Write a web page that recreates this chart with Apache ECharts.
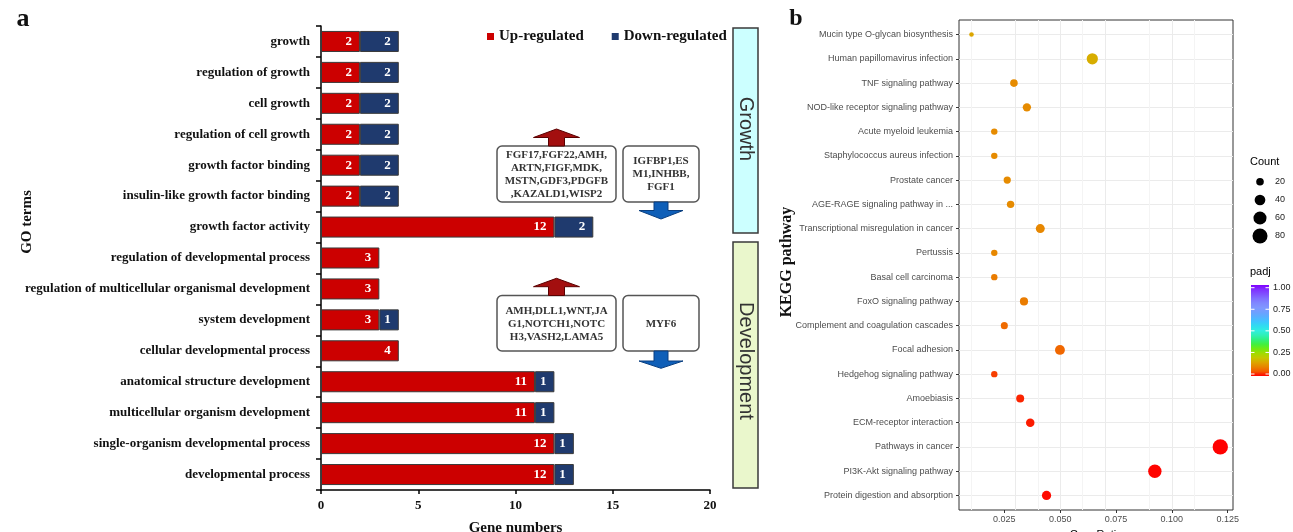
<!DOCTYPE html>
<html>
<head>
<meta charset="utf-8">
<script src="https://cdn.jsdelivr.net/npm/echarts@6/dist/echarts.min.js"></script>
<style>
html,body{margin:0;padding:0;background:#fff;}
#chart{width:1293px;height:532px;}
</style>
</head>
<body>
<div id="chart"></div>
<script>
// ---------- Panel a data ----------
const goTerms = ['growth','regulation of growth','cell growth','regulation of cell growth','growth factor binding','insulin-like growth factor binding','growth factor activity','regulation of developmental process','regulation of multicellular organismal development','system development','cellular developmental process','anatomical structure development','multicellular organism development','single-organism developmental process','developmental process'];
const upRegulated   = [2,2,2,2,2,2,12,3,3,3,4,11,11,12,12];
const downRegulated = [2,2,2,2,2,2,2,0,0,1,0,1,1,1,1];
const geneAxisMax = 20;
const geneAxisInterval = 5;

// ---------- Panel b data ----------
const keggPathways = ['Mucin type O-glycan biosynthesis','Human papillomavirus infection','TNF signaling pathway','NOD-like receptor signaling pathway','Acute myeloid leukemia','Staphylococcus aureus infection','Prostate cancer','AGE-RAGE signaling pathway in ...','Transcriptional misregulation in cancer','Pertussis','Basal cell carcinoma','FoxO signaling pathway','Complement and coagulation cascades','Focal adhesion','Hedgehog signaling pathway','Amoebiasis','ECM-receptor interaction','Pathways in cancer','PI3K-Akt signaling pathway','Protein digestion and absorption'];
const geneRatio = [0.0103,0.0644,0.0293,0.0351,0.0205,0.0205,0.0263,0.0278,0.0411,0.0205,0.0205,0.0338,0.0250,0.0499,0.0205,0.0321,0.0366,0.1217,0.0924,0.0439];
const geneCount = [7,44,20,24,14,14,18,19,28,14,14,23,17,34,14,22,25,83,63,30];
const padj      = [0.15,0.16,0.11,0.11,0.11,0.11,0.11,0.11,0.105,0.105,0.09,0.09,0.07,0.065,0.035,0.02,0.015,0.0005,0.002,0.006];
const ratioTicks = [0.025,0.05,0.075,0.1,0.125];
const ratioMinorTicks = [0.0125,0.0375,0.0625,0.0875,0.1125];
const countLegend = [20,40,60,80];
const padjTicks = [1.00,0.75,0.50,0.25,0.00];

// ---------- styles ----------
const SERIF = '"Liberation Serif","Times New Roman",serif';
const SANS = '"Liberation Sans",Arial,Helvetica,sans-serif';
const padjColors = ['#FF0000','#F45A00','#E88400','#DCA600','#C4C800','#A0DC00','#70EA10','#40F040','#30F080','#30F0B8','#30EEE0','#30DCF0','#40C4FF','#58B0FF','#6EA0FF','#8098FF','#8088FF','#8070FF','#8050FF','#8030FF','#8000FF'];
function dotSize(c){ return 0.2 + 1.66*Math.sqrt(c); }

const chart = echarts.init(document.getElementById('chart'), null, {renderer:'canvas'});

const kIdx = keggPathways.map((_, i) => i);
const points = keggPathways.map((n, i) => [geneRatio[i], i, geneCount[i], padj[i], n]);

const gridLineData = []
  .concat(kIdx.map(i => ({yAxis: i, lineStyle:{color:'#EBEBEB', width:1, type:'solid'}})))
  .concat(ratioTicks.map(v => ({xAxis: v, lineStyle:{color:'#EBEBEB', width:1, type:'solid'}})))
  .concat(ratioMinorTicks.map(v => ({xAxis: v, lineStyle:{color:'#F4F4F4', width:1, type:'solid'}})));

// annotation helpers
function upArrow(cx, tipY, baseY, boxTop, fill, stroke){
  return {type:'polygon', shape:{points:[[cx,tipY],[cx+23,baseY],[cx+8,baseY],[cx+8,boxTop],[cx-8,boxTop],[cx-8,baseY],[cx-23,baseY]]},
    style:{fill:fill, stroke:stroke, lineWidth:1}};
}
function downArrow(cx, boxBottom, headY, tipY, fill, stroke){
  return {type:'polygon', shape:{points:[[cx-7,boxBottom],[cx+7,boxBottom],[cx+7,headY],[cx+22,headY],[cx,tipY],[cx-22,headY],[cx-7,headY]]},
    style:{fill:fill, stroke:stroke, lineWidth:1}};
}
function geneBox(x, y, w, h, text){
  return [
    {type:'rect', shape:{x:x, y:y, width:w, height:h, r:5}, style:{fill:'#fff', stroke:'#555', lineWidth:1.5}},
    {type:'text', x:x+w/2, y:y+h/2+0.5, style:{text:text, align:'center', verticalAlign:'middle', font:'bold 11px '+SERIF, lineHeight:13, fill:'#333'}}
  ];
}

const graphics = [];
graphics.push({type:'text', x:23, y:19.5, style:{text:'a', font:'bold 26px '+SERIF, fill:'#111', align:'center', verticalAlign:'middle'}});
graphics.push({type:'text', x:796, y:18.5, style:{text:'b', font:'bold 24px '+SERIF, fill:'#111', align:'center', verticalAlign:'middle'}});
graphics.push({type:'text', x:27.5, y:222, rotation:Math.PI/2, style:{text:'GO terms', font:'bold 15px '+SERIF, fill:'#111', align:'center', verticalAlign:'middle'}});
graphics.push({type:'text', x:786.5, y:262, rotation:Math.PI/2, style:{text:'KEGG pathway', font:'bold 16px '+SERIF, fill:'#111', align:'center', verticalAlign:'middle'}});
// gene boxes (growth)
graphics.push(...geneBox(497, 146, 119, 56, 'FGF17,FGF22,AMH,\nARTN,FIGF,MDK,\nMSTN,GDF3,PDGFB\n,KAZALD1,WISP2'));
graphics.push(...geneBox(623, 146, 76, 56, 'IGFBP1,ES\nM1,INHBB,\nFGF1'));
graphics.push(upArrow(556.5, 129, 137.5, 146, '#A30F0F', '#5a0000'));
graphics.push(downArrow(661, 202, 210.5, 219, '#0F5FB8', '#0a3f80'));
// gene boxes (development)
graphics.push(...geneBox(497, 295.5, 119, 55.5, 'AMH,DLL1,WNT,JA\nG1,NOTCH1,NOTC\nH3,VASH2,LAMA5'));
graphics.push(...geneBox(623, 295.5, 76, 55.5, 'MYF6'));
graphics.push(upArrow(556.5, 278.3, 286.7, 295.5, '#A30F0F', '#5a0000'));
graphics.push(downArrow(661, 351, 361, 368.3, '#0F5FB8', '#0a3f80'));
// side category boxes
graphics.push({type:'rect', shape:{x:733, y:28, width:25, height:205}, style:{fill:'#CCFFFF', stroke:'#3a3a3a', lineWidth:1.5}});
graphics.push({type:'text', x:745.5, y:129, rotation:-Math.PI/2, style:{text:'Growth', font:'20px '+SANS, fill:'#333', align:'center', verticalAlign:'middle'}});
graphics.push({type:'rect', shape:{x:733, y:242, width:25, height:246}, style:{fill:'#EAF7CC', stroke:'#3a3a3a', lineWidth:1.5}});
graphics.push({type:'text', x:745.5, y:361, rotation:-Math.PI/2, style:{text:'Development', font:'20px '+SANS, fill:'#333', align:'center', verticalAlign:'middle'}});
// Count size legend
graphics.push({type:'text', x:1250, y:162, style:{text:'Count', font:'11px '+SANS, fill:'#000', align:'left', verticalAlign:'middle'}});
const countY = [181.7, 200, 218, 236];
countLegend.forEach((c, i) => {
  graphics.push({type:'circle', shape:{cx:1260, cy:countY[i], r:dotSize(c)/2}, style:{fill:'#000'}});
  graphics.push({type:'text', x:1275, y:countY[i], style:{text:String(c), font:'9px '+SANS, fill:'#222', align:'left', verticalAlign:'middle'}});
});
// padj colour bar
graphics.push({type:'text', x:1250, y:272, style:{text:'padj', font:'11px '+SANS, fill:'#000', align:'left', verticalAlign:'middle'}});
graphics.push({type:'rect', shape:{x:1251, y:285, width:18, height:91},
  style:{fill:{type:'linear', x:0, y:1, x2:0, y2:0, colorStops: padjColors.map((c, i) => ({offset: i/(padjColors.length-1), color:c}))}}});
padjTicks.forEach(v => {
  const y = 374 - v*86.3;
  graphics.push({type:'line', shape:{x1:1251, y1:y, x2:1254.5, y2:y}, style:{stroke:'#fff', lineWidth:1}});
  graphics.push({type:'line', shape:{x1:1265.5, y1:y, x2:1269, y2:y}, style:{stroke:'#fff', lineWidth:1}});
  graphics.push({type:'text', x:1273, y:y, style:{text:v.toFixed(2), font:'9px '+SANS, fill:'#222', align:'left', verticalAlign:'middle'}});
});

const option = {
  backgroundColor:'#fff',
  animation:false,
  legend:{
    data:['Up-regulated','Down-regulated'],
    left:487, top:29, padding:0, itemWidth:7, itemHeight:7, itemGap:28, icon:'rect',
    itemStyle:{borderWidth:0},
    textStyle:{fontFamily:SERIF, fontWeight:'bold', fontSize:15, color:'#111', padding:[0,0,0,0]}
  },
  grid:[
    {left:321, top:26, width:389, height:464, containLabel:false, outerBoundsMode:'none'},
    {left:959, top:20, width:274, height:490, containLabel:false, outerBoundsMode:'none', show:true, borderColor:'#333', borderWidth:1, backgroundColor:'transparent'}
  ],
  xAxis:[
    {gridIndex:0, type:'value', min:0, max:geneAxisMax, interval:geneAxisInterval,
     axisLine:{show:true, onZero:false, lineStyle:{color:'#000', width:1.5}},
     axisTick:{show:true, length:4, lineStyle:{color:'#000', width:1.5}},
     axisLabel:{fontFamily:SERIF, fontWeight:'bold', fontSize:13, color:'#111', margin:9},
     splitLine:{show:false},
     name:'Gene numbers', nameLocation:'middle', nameGap:31,
     nameTextStyle:{fontFamily:SERIF, fontWeight:'bold', fontSize:15, color:'#111'}},
    {gridIndex:1, type:'value', min:0.0047, max:0.1274, position:'bottom',
     axisLine:{show:false, onZero:false},
     axisTick:{show:true, length:3, customValues:ratioTicks, lineStyle:{color:'#333', width:1}},
     axisLabel:{customValues:ratioTicks, formatter:v => v.toFixed(3), fontFamily:SANS, fontSize:9, color:'#4D4D4D', margin:5},
     splitLine:{show:false},
     name:'GeneRatio', nameLocation:'middle', nameGap:19,
     nameTextStyle:{fontFamily:SANS, fontSize:11, color:'#000'}}
  ],
  yAxis:[
    {gridIndex:0, type:'category', data:goTerms, inverse:true,
     axisLine:{show:true, onZero:false, lineStyle:{color:'#000', width:1.5}},
     axisTick:{show:true, length:5, lineStyle:{color:'#000', width:1.5}},
     axisLabel:{fontFamily:SERIF, fontWeight:'bold', fontSize:13, color:'#111', margin:11},
     splitLine:{show:false}},
    {gridIndex:1, type:'value', min:-0.6, max:keggPathways.length-0.4, inverse:true, position:'left',
     axisLine:{show:false, onZero:false},
     axisTick:{show:true, length:3, customValues:kIdx, lineStyle:{color:'#333', width:1}},
     axisLabel:{customValues:kIdx, formatter:v => keggPathways[Math.round(v)] || '', fontFamily:SANS, fontSize:9, color:'#4D4D4D', margin:6},
     splitLine:{show:false}}
  ],
  visualMap:{
    type:'continuous', show:false, seriesIndex:3, dimension:3, min:0, max:1,
    inRange:{color:padjColors}
  },
  series:[
    {name:'Up-regulated', type:'bar', stack:'go', xAxisIndex:0, yAxisIndex:0, barWidth:'68%',
     data:upRegulated,
     itemStyle:{color:'#CC0000', borderColor:'#3a3a3a', borderWidth:1},
     label:{show:true, position:'insideRight', distance:8, color:'#fff', fontFamily:SERIF, fontWeight:'bold', fontSize:13}},
    {name:'Down-regulated', type:'bar', stack:'go', xAxisIndex:0, yAxisIndex:0, barWidth:'68%',
     data:downRegulated.map(v => v > 0 ? v : '-'),
     itemStyle:{color:'#1F3A6E', borderColor:'#3a3a3a', borderWidth:1},
     label:{show:true, position:'insideRight', distance:8, color:'#fff', fontFamily:SERIF, fontWeight:'bold', fontSize:13}},
    {name:'grid', type:'line', xAxisIndex:1, yAxisIndex:1, data:[], z:1, silent:true, showSymbol:false,
     markLine:{silent:true, symbol:['none','none'], symbolSize:0, label:{show:false}, emphasis:{disabled:true}, animation:false, data:gridLineData}},
    {name:'KEGG', type:'scatter', xAxisIndex:1, yAxisIndex:1, z:5,
     data:points, symbolSize:v => dotSize(v[2]),
     itemStyle:{opacity:1}}
  ],
  graphic:graphics
};
chart.setOption(option);
</script>
</body>
</html>
